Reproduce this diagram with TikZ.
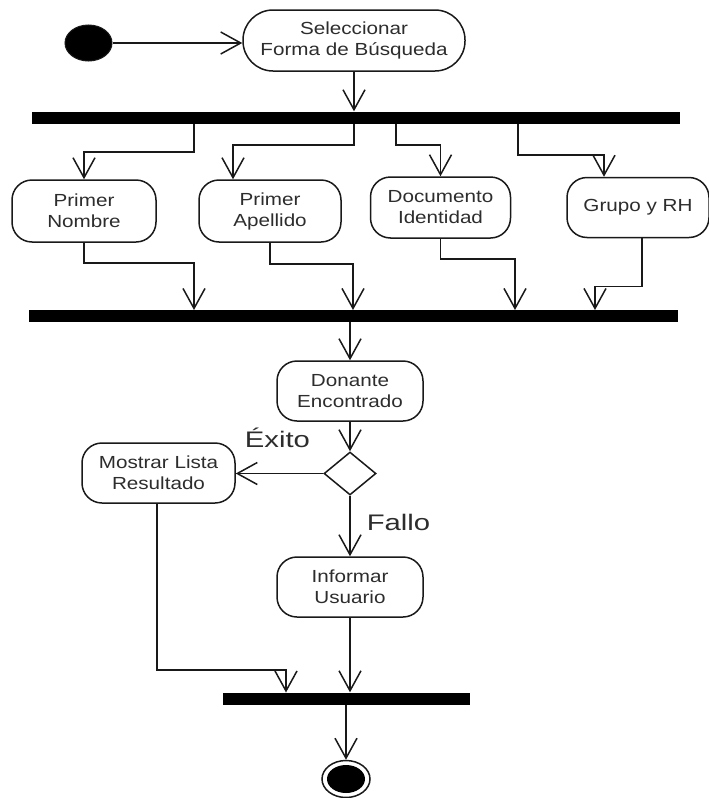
\documentclass[tikz,border=0pt]{standalone}
\usepackage{fontspec}
\newfontfamily\actfont[FakeStretch=1.18]{Liberation Sans}
\newfontfamily\guardfont[FakeStretch=1.3]{Liberation Sans}
\usetikzlibrary{arrows.meta,shapes.geometric}
\definecolor{ink}{RGB}{25,25,25}
\definecolor{txt}{RGB}{45,45,45}
\begin{document}
\begin{tikzpicture}[x=1pt,y=-1pt,
  act/.style={draw=ink, line width=1.5pt, fill=white, rounded corners=20pt,
    align=center, inner sep=2pt, text=txt,
    font=\actfont\fontsize{17.5}{21}\selectfont},
  syncbar/.style={fill=black, draw=none, inner sep=0pt},
  flow/.style={draw=ink, line width=1.5pt,
    -{Straight Barb[length=20pt,width=22pt]}},
  guard/.style={font=\guardfont\fontsize{22.5}{24}\selectfont, text=txt,
    inner sep=0pt, anchor=base},
]
\useasboundingbox (0,0) rectangle (709,798);

% initial node and first activity
\node[ellipse, fill=black, draw=ink, line width=1pt, inner sep=0pt,
  minimum width=47pt, minimum height=36pt] (start) at (88.5,43) {};
\node[act, rounded corners=30pt, minimum width=222pt, minimum height=61pt]
  (sel) at (354,40.5) {Seleccionar\\Forma de Búsqueda};

% fork and join bars
\node[syncbar, minimum width=648pt, minimum height=12pt] (bar1) at (356,117.5) {};
\node[syncbar, minimum width=649pt, minimum height=12pt] (bar2) at (353.5,316) {};
\node[syncbar, minimum width=247pt, minimum height=12pt] (bar3) at (346.5,698.5) {};

% search criteria
\node[act, minimum width=144pt, minimum height=62pt] (pn) at (84,211) {Primer\\Nombre};
\node[act, minimum width=142pt, minimum height=62pt] (pa) at (270,211) {Primer\\Apellido};
\node[act, minimum width=140pt, minimum height=61pt] (di) at (440.5,207.5) {Documento\\Identidad};
\node[act, minimum width=142pt, minimum height=60pt] (gr) at (638,207.5) {Grupo y RH};

% result handling
\node[act, minimum width=146pt, minimum height=60pt] (don) at (350,391) {Donante\\Encontrado};
\node[diamond, draw=ink, line width=1.5pt, fill=white, inner sep=0pt,
  minimum width=52pt, minimum height=43pt] (dec) at (350,473.5) {};
\node[act, minimum width=153pt, minimum height=60pt] (mos) at (158.5,473) {Mostrar Lista\\Resultado};
\node[act, minimum width=146pt, minimum height=60pt] (inf) at (350,587) {Informar\\Usuario};

% final node
\node[ellipse, draw=ink, line width=1.5pt, inner sep=0pt,
  minimum width=48pt, minimum height=37pt] (endo) at (346,779) {};
\node[ellipse, fill=black, inner sep=0pt,
  minimum width=38pt, minimum height=28pt] (endi) at (endo.center) {};

% guard labels
\node[guard] (gok) at (277.5,447) {Éxito};
\node[guard] (gno) at (398.5,530) {Fallo};

% fork branch and join points
\coordinate (f1) at (194,123.5);
\coordinate (f2) at (354,123.5);
\coordinate (f3) at (396,123.5);
\coordinate (f4) at (518,123.5);
\coordinate (j1) at (194,310);
\coordinate (j2) at (353,310);
\coordinate (j3) at (515,310);
\coordinate (j4) at (595,310);
\coordinate (j5) at (286,692.5);

% control flow
\draw[flow] (start.east) -- (start.east -| sel.west);
\draw[flow] (sel.south) -- (sel.south |- bar1.north);

\draw[flow] (f1) -- ++(0,28.5) -| (pn.north);
\draw[flow] (f2) -- ++(0,21.5) -| ([xshift=-37pt]pa.north);
\draw[flow] (f3) -- ++(0,21.5) -| (di.north);
\draw[flow] (f4) -- ++(0,31.5) -| ([xshift=-34pt]gr.north);

\draw[flow] (pn.south) -- ++(0,20) -| (j1);
\draw[flow] (pa.south) -- ++(0,21) -| (j2);
\draw[flow] (di.south) -- ++(0,20) -| (j3);
\draw[flow] ([xshift=4pt]gr.south) -- ++(0,48) -| (j4);

\draw[flow] (bar2.south -| don.north) -- (don.north);
\draw[flow] (don.south) -- (dec.north);
\draw[flow] (dec.west) -- (dec.west -| mos.east);
\draw[flow] (dec.south) -- (inf.north);

\draw[flow] ([xshift=-1.5pt]mos.south) -- ++(0,166) -| (j5);
\draw[flow] (inf.south) -- (inf.south |- bar3.north);
\draw[flow] (bar3.south -| endo.north) -- (endo.north);
\end{tikzpicture}
\end{document}
